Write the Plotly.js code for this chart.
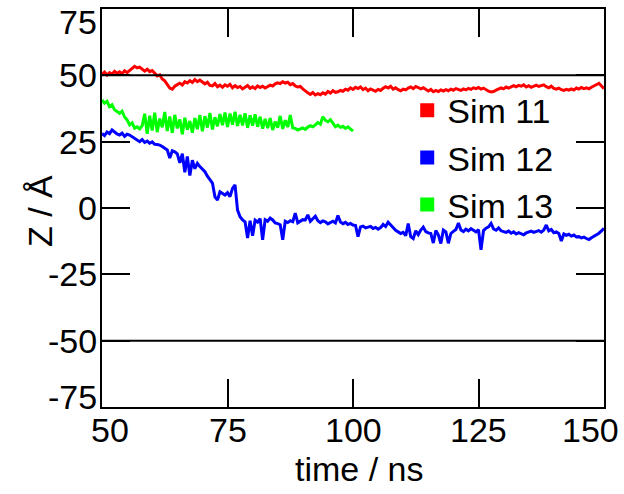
<!DOCTYPE html>
<html>
<head>
<meta charset="utf-8">
<script src="https://cdn.plot.ly/plotly-3.0.1.min.js"></script>
<style>html,body{margin:0;padding:0;background:#fff;}#chart{width:624px;height:494px;}</style>
</head>
<body>
<div id="chart"></div>
<script>
// time grid: 0.5 ns sampling starting at 50 ns
const startTime = 50;
const timeStep = 0.5;

const seriesNames = ["Sim 11", "Sim 12", "Sim 13"];
const seriesColors = ["#ff0000", "#0000ff", "#00ff00"];

// Sim 11 (red), t = 50 .. 150 ns
const sim11 = [
  50.5, 51.2, 50.1, 51.0, 50.4, 51.5, 50.8, 51.3, 50.6, 51.7, 51.0,
  52.0, 52.6, 53.4, 52.8, 53.1, 52.2, 51.6, 52.3, 51.4,
  51.8, 50.6, 49.8, 50.2, 48.6, 47.9, 46.3,
  45.2, 44.8, 45.9, 46.5,
  47.0, 46.4, 47.6, 47.1, 48.0, 47.3, 48.4, 47.6, 48.2, 47.5,
  46.8, 47.4, 46.2, 46.0, 46.9, 45.7, 46.3, 45.5, 46.4, 45.9, 46.6,
  45.3, 46.1, 45.4, 45.8, 44.9, 45.6, 46.2, 45.1, 45.7, 45.0, 46.0, 45.4, 45.9, 45.2,
  45.8, 46.3, 46.0, 46.8, 47.2, 46.9, 47.6,
  47.1, 47.4, 46.5, 46.9, 46.0, 45.6, 45.8,
  44.9, 44.0, 43.4, 42.8, 43.5, 42.6, 43.1,
  42.7, 43.4, 42.9, 43.9, 43.3, 44.2, 43.6, 43.8,
  44.3, 44.0, 44.8, 44.4, 45.3, 44.7, 45.5, 45.0, 45.6,
  44.6, 45.2, 44.2, 44.9, 44.5, 44.0, 44.7, 44.3, 45.1,
  45.7, 45.2, 45.9, 44.8, 45.3, 44.6, 44.2, 44.8,
  44.5, 45.2, 45.6, 45.0, 45.8, 45.4, 44.9, 45.3,
  44.6, 44.1, 44.7, 43.8, 44.3, 43.9, 44.5, 44.1, 44.6, 44.2,
  44.8, 44.4, 45.0, 44.6, 44.3, 44.9, 44.5, 45.1, 44.7, 45.3,
  45.0, 45.4, 44.8, 45.2, 44.5, 44.0, 43.7, 43.9,
  44.4, 44.8, 45.3, 44.9, 45.6, 45.2, 45.8, 46.1, 45.7, 46.2,
  45.9, 46.4, 45.6, 46.1, 45.5, 45.9, 46.3, 45.8, 46.0, 46.4,
  45.7, 45.3, 45.9, 45.1, 44.8, 45.2, 44.6, 44.3, 44.7, 44.4,
  44.9, 44.5, 45.2, 44.8, 45.4, 45.0, 45.3, 44.9,
  45.5, 46.0, 46.6, 47.0, 46.0, 45.0
];

// Sim 12 (blue), t = 50 .. 150 ns
const sim12 = [
  28.1, 27.3, 28.6, 28.0, 29.4,
  28.5, 27.9, 27.5, 28.2, 27.0, 27.8, 27.5, 26.9,
  26.4, 25.6, 25.0, 25.8, 24.7, 25.2, 24.4, 24.9, 24.0, 23.9, 23.7, 23.2,
  22.5, 21.9, 18.8, 21.6, 21.2, 20.4,
  17.0, 20.5, 13.5, 19.4, 12.2, 18.0,
  14.8, 16.8, 15.6, 14.5, 13.7, 12.0, 10.5, 9.4, 4.2,
  3.0, 6.1, 5.5, 4.9, 5.8, 4.3, 7.4, 8.7, -0.8,
  -3.3, -4.5, -5.2, -11.3, -4.8, -10.5,
  -4.6, -5.3, -4.0, -12.0, -4.4, -5.0, -3.8,
  -4.5, -5.6, -5.9, -6.3, -12.0, -5.0, -5.5, -4.8, -5.2, -1.9, -5.6, -4.9, -4.4,
  -4.5, -2.6, -5.0, -4.2, -3.1, -4.8, -5.5, -4.9, -5.2, -6.0, -5.4, -5.0, -5.6, -2.8, -5.3, -5.9, -5.4, -6.2, -5.8, -6.4,
  -6.6, -10.8, -7.1, -6.8, -7.5, -7.2, -6.9, -7.7, -7.3, -8.0,
  -7.4, -6.2, -7.0, -5.4, -6.4, -7.6, -8.4, -9.0, -9.6, -9.2,
  -10.4, -5.9, -10.8, -11.5, -8.6, -10.0, -8.3, -7.2, -8.9, -9.4,
  -9.6, -13.2, -8.5, -10.1, -13.4, -8.3, -9.0, -13.3, -9.6, -8.8,
  -8.1, -5.7, -8.3, -8.9, -8.0, -8.6, -7.8, -8.4, -9.0, -8.2,
  -15.8, -8.5, -7.6, -7.1, -5.8, -7.9, -8.4, -7.5, -8.6, -8.9,
  -9.2, -8.7, -9.5, -9.0, -9.8, -9.3, -9.6, -10.1, -9.4, -9.0,
  -8.7, -9.2, -8.9, -8.5, -9.1, -8.3, -6.4, -8.6, -8.1, -9.3,
  -9.0, -9.6, -12.4, -9.8, -10.3, -9.9, -10.6, -10.2, -10.9, -10.8,
  -11.3, -11.0, -11.5, -11.9, -11.2, -10.6, -10.2, -9.5, -8.6, -7.7
];

// Sim 13 (green), t = 50 .. 100 ns
const sim13 = [
  40.7, 39.5, 40.2,
  38.2, 38.9, 37.0, 36.4,
  35.7, 36.5, 34.3, 33.2,
  31.3, 32.1, 30.1, 30.6, 29.8,
  31.0, 35.5, 28.0, 34.8, 29.2, 35.9, 28.6, 33.7, 30.4, 36.2,
  29.0, 34.5, 28.3, 35.1, 30.0, 33.4, 27.8, 34.0, 29.5, 32.8,
  28.4, 33.9, 29.7, 35.0, 28.9, 34.6, 30.3, 35.8, 29.6, 34.2,
  30.8, 35.4, 31.2, 36.0, 30.5, 35.6, 31.4, 36.3, 30.9, 35.1,
  31.1, 35.7, 30.2, 34.9, 31.0, 35.3, 30.6, 34.4, 29.9, 33.6,
  30.1, 33.9, 29.4, 32.6, 30.3, 34.7, 29.8, 33.1, 30.5, 35.0,
  30.2,
  30.0, 29.4, 29.7, 30.2, 29.6, 30.5, 31.0, 30.6, 31.3,
  32.2, 31.6, 34.4, 33.0, 32.5, 33.3, 31.9, 30.6, 31.2, 30.4, 30.8, 30.0, 30.6, 29.8, 29.0
];

const boundaryLevels = [50, -50];
const xTickVals = [50, 75, 100, 125, 150];
const yTickVals = [-75, -50, -25, 0, 25, 50, 75];
const xTitle = "time / ns";
const yTitle = "Z / Å";

const allSeries = [sim11, sim12, sim13];
const font = "Arial, 'Liberation Sans', sans-serif";
const tickFont = {family: font, size: 34, color: "#000"};

const traces = [];
allSeries.forEach((ys, i) => {
  traces.push({
    type: "scatter", mode: "lines", y: ys, x0: startTime, dx: timeStep,
    line: {color: seriesColors[i], width: 3}, showlegend: false, hoverinfo: "skip"
  });
});
seriesNames.forEach((name, i) => {
  traces.push({
    type: "scatter", mode: "markers", x: [null], y: [null], name: name,
    marker: {symbol: "square", size: 14, color: seriesColors[i]}, showlegend: true
  });
});

const shapes = boundaryLevels.map(v => ({
  type: "line", xref: "paper", x0: 0, x1: 1, yref: "y", y0: v, y1: v,
  line: {color: "#000", width: 2}, layer: "above"
}));

// tick labels drawn as text at the axis tick values (end labels nudged inside the frame)
const annotations = [];
xTickVals.forEach((v, i) => {
  let shift = 0;
  if (i === 0) shift = 8;
  if (i === xTickVals.length - 1) shift = -14;
  annotations.push({
    xref: "x", yref: "paper", x: v, y: 0, xanchor: "center", yanchor: "middle",
    xshift: shift, yshift: -23, text: String(v), showarrow: false, font: tickFont
  });
});
yTickVals.forEach((v, i) => {
  let shift = 0;
  if (i === 0) shift = 10;
  if (i === yTickVals.length - 1) shift = -13;
  annotations.push({
    xref: "paper", yref: "y", x: 0, y: v, xanchor: "right", yanchor: "middle",
    xshift: -3, yshift: shift, text: String(v), showarrow: false, font: tickFont
  });
});
annotations.push({
  xref: "paper", yref: "paper", x: 0.5, y: 0, xanchor: "center", yanchor: "middle",
  xshift: 6, yshift: -62, text: xTitle, showarrow: false, font: tickFont
});
annotations.push({
  xref: "paper", yref: "paper", x: 0, y: 0.5, xanchor: "center", yanchor: "middle",
  xshift: -62, yshift: -3, textangle: -90, text: yTitle, showarrow: false, font: tickFont
});

const axisCommon = {
  showline: true, linecolor: "#000", linewidth: 2, mirror: "ticks",
  ticks: "inside", ticklen: 28, tickwidth: 2, tickcolor: "#000",
  showgrid: false, zeroline: false, automargin: false, showticklabels: false
};

const layout = {
  width: 624, height: 494,
  margin: {l: 102, r: 20, t: 9, b: 87},
  paper_bgcolor: "#fff", plot_bgcolor: "#fff",
  xaxis: Object.assign({}, axisCommon, {range: [50, 150], tickvals: xTickVals}),
  yaxis: Object.assign({}, axisCommon, {range: [-75, 75], tickvals: yTickVals}),
  shapes: shapes,
  annotations: annotations,
  showlegend: true,
  legend: {
    x: 0.608, y: 0.8176, xanchor: "left", yanchor: "top",
    bgcolor: "rgba(0,0,0,0)", borderwidth: 0,
    font: {family: font, size: 34, color: "#000"},
    tracegroupgap: 0
  }
};

Plotly.newPlot("chart", traces, layout, {displayModeBar: false, staticPlot: true});
</script>
</body>
</html>
